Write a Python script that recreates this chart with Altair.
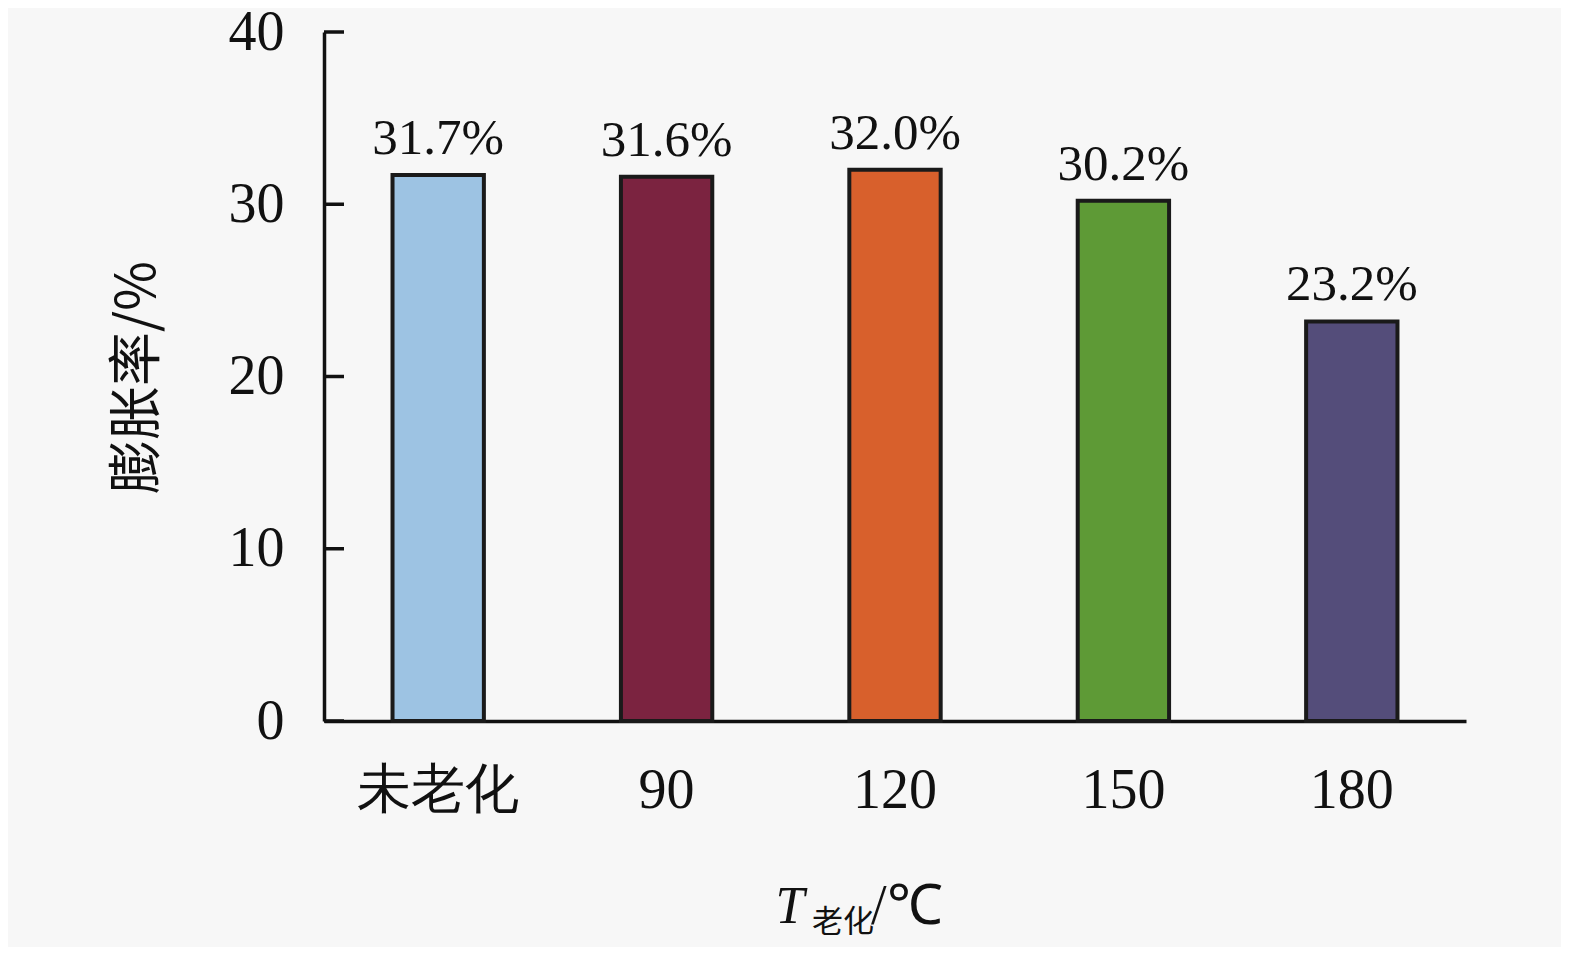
import altair as alt
import pandas as pd

categories = ["未老化", "90", "120", "150", "180"]
values = [31.7, 31.6, 32.0, 30.2, 23.2]
labels = ["31.7%", "31.6%", "32.0%", "30.2%", "23.2%"]
colors = ["#9DC3E3", "#7B2340", "#D8602C", "#5E9A36", "#544D7A"]
y_ticks = [0, 10, 20, 30, 40]

df = pd.DataFrame({"cat": categories, "val": values, "lab": labels, "col": colors})
ticks_df = pd.DataFrame({"t": y_ticks})

FONT = "Liberation Serif"
W, H = 1142, 689

x_enc = alt.X("cat:N", sort=categories,
              scale=alt.Scale(paddingInner=0.6, paddingOuter=0.3),
              axis=alt.Axis(title=None, labelAngle=0, labelFont=FONT,
                            labelFontSize={"expr": "datum.value == '未老化' ? 54 : 56"},
                            labelColor="#111", labelPadding=42, ticks=False,
                            domainColor="#111", domainWidth=3.5, labelFontWeight="normal"))
y_scale = alt.Scale(domain=[0, 40], nice=False)

bars = alt.Chart(df).mark_bar(stroke="#1a1a1a", strokeWidth=4).encode(
    x=x_enc,
    y=alt.Y("val:Q", scale=y_scale,
            axis=alt.Axis(values=y_ticks, title="膨胀率/%", titleFont="Noto Sans CJK SC",
                          titleFontSize=54, titleFontWeight="normal", titleColor="#111",
                          titleX=-186, titleY=345, titleAlign="center", titleBaseline="middle",
                          labelFont=FONT, labelFontSize=56, labelColor="#111",
                          labelPadding=40, ticks=False, grid=False,
                          domainColor="#111", domainWidth=3.5)),
    color=alt.Color("col:N", scale=None),
)

text = alt.Chart(df).mark_text(font=FONT, fontSize=51, dy=-36, color="#111").encode(
    x=alt.X("cat:N", sort=categories),
    y=alt.Y("val:Q", scale=y_scale),
    text="lab:N",
)

tick_rules = alt.Chart(ticks_df).mark_rule(color="#111", strokeWidth=3.5).encode(
    y=alt.Y("t:Q", scale=y_scale),
    x=alt.value(0),
    x2=alt.value(20),
)

t_part = alt.Chart(pd.DataFrame({"s": ["T"]})).mark_text(
    font=FONT, fontSize=52, fontStyle="italic", color="#111",
    align="center", baseline="middle").encode(
    text="s:N", x=alt.value(466), y=alt.value(875))
sub_part = alt.Chart(pd.DataFrame({"s": ["老化"]})).mark_text(
    font="Noto Sans CJK SC", fontSize=31, color="#111", align="center", baseline="middle").encode(
    text="s:N", x=alt.value(519), y=alt.value(891))
unit_part = alt.Chart(pd.DataFrame({"s": ["/℃"]})).mark_text(
    font=FONT, fontSize=56, color="#111", align="left", baseline="middle").encode(
    text="s:N", x=alt.value(547), y=alt.value(875))

chart = alt.layer(bars, tick_rules, text, t_part, sub_part, unit_part).properties(
    width=W, height=H,
    autosize=alt.AutoSizeParams(type="none"),
    padding={"left": 316, "top": 24, "right": 95, "bottom": 226},
    background="#F7F7F7",
).configure_view(stroke=None)

chart.save("out.html", embed_options={"renderer": "svg", "actions": False})
